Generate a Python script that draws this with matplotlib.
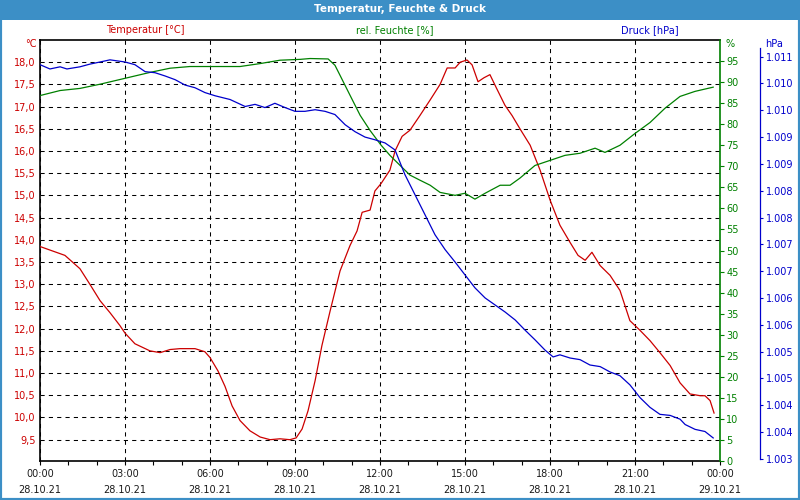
import matplotlib
matplotlib.use('Agg')
import matplotlib.pyplot as plt
from matplotlib.patches import Rectangle

plt.rcParams['font.family'] = ['DejaVu Sans']

# ---------------- data ----------------
temp_hours = [0.00, 0.88, 1.41, 1.76, 2.12, 2.47, 2.82, 3.00, 3.35, 3.88, 4.24, 4.59, 4.94,
              5.47, 5.82, 6.00, 6.28, 6.53, 6.78, 7.06, 7.41, 7.77, 8.12, 8.47, 8.82, 9.04,
              9.25, 9.46, 9.71, 9.95, 10.24, 10.59, 10.94, 11.19, 11.37, 11.65, 11.82, 12.04,
              12.35, 12.53, 12.78, 13.06, 13.41, 13.77, 14.12, 14.37, 14.65, 14.83, 15.07,
              15.25, 15.46, 15.67, 15.88, 16.10, 16.41, 16.66, 16.94, 17.30, 17.65, 18.00,
              18.35, 18.71, 18.99, 19.24, 19.48, 19.77, 20.12, 20.47, 20.82, 21.18, 21.53,
              21.88, 22.24, 22.59, 22.94, 23.30, 23.47, 23.65, 23.79]
temp_values = [13.85, 13.65, 13.35, 13.00, 12.63, 12.36, 12.07, 11.90, 11.66, 11.50, 11.46,
               11.53, 11.55, 11.55, 11.48, 11.35, 11.05, 10.70, 10.26, 9.93, 9.70, 9.56, 9.50,
               9.52, 9.50, 9.54, 9.74, 10.15, 10.83, 11.62, 12.40, 13.30, 13.87, 14.20, 14.62,
               14.67, 15.10, 15.27, 15.57, 16.00, 16.33, 16.47, 16.80, 17.15, 17.50, 17.87,
               17.87, 18.00, 18.05, 17.94, 17.56, 17.65, 17.72, 17.43, 17.03, 16.80, 16.50,
               16.13, 15.57, 14.90, 14.33, 13.94, 13.65, 13.54, 13.72, 13.42, 13.20, 12.86,
               12.18, 11.96, 11.73, 11.46, 11.17, 10.78, 10.53, 10.49, 10.49, 10.38, 10.10]

hum_hours = [0.00, 0.71, 1.41, 2.12, 3.00, 3.88, 4.59, 5.29, 7.06, 7.77, 8.47, 9.18, 9.53,
             10.17, 10.41, 10.59, 10.94, 11.30, 11.65, 12.04, 12.35, 12.71, 13.06, 13.41,
             13.77, 14.12, 14.65, 15.00, 15.35, 15.71, 16.24, 16.59, 16.94, 17.47, 18.00,
             18.53, 19.06, 19.59, 19.94, 20.47, 21.00, 21.53, 22.06, 22.59, 23.12, 23.76]
hum_values = [86.8, 88.0, 88.5, 89.5, 90.9, 92.3, 93.3, 93.7, 93.7, 94.4, 95.2, 95.4, 95.6,
              95.5, 94.0, 91.6, 86.9, 82.1, 78.5, 75.0, 72.6, 70.2, 67.9, 66.7, 65.5, 63.8,
              63.1, 63.6, 62.2, 63.6, 65.5, 65.5, 67.2, 70.2, 71.4, 72.6, 73.1, 74.3, 73.3,
              75.0, 77.8, 80.4, 83.8, 86.6, 87.8, 88.8]

pres_hours = [0.00, 0.35, 0.71, 0.95, 1.41, 1.76, 2.12, 2.47, 3.00, 3.35, 3.71, 4.06, 4.41,
              4.77, 5.12, 5.47, 5.82, 6.18, 6.71, 7.24, 7.59, 7.94, 8.29, 8.65, 9.00, 9.35,
              9.71, 10.06, 10.41, 10.77, 11.12, 11.47, 11.82, 12.18, 12.53, 12.88, 13.24,
              13.59, 13.94, 14.30, 14.65, 15.00, 15.35, 15.71, 16.06, 16.41, 16.77, 17.12,
              17.47, 17.82, 18.11, 18.35, 18.71, 19.06, 19.41, 19.77, 20.12, 20.47, 20.82,
              21.18, 21.53, 21.88, 22.24, 22.59, 22.77, 23.12, 23.47, 23.76]
pres_values = [1010.35, 1010.27, 1010.31, 1010.27, 1010.31, 1010.36, 1010.40, 1010.44,
               1010.40, 1010.35, 1010.22, 1010.20, 1010.14, 1010.07, 1009.97, 1009.92,
               1009.83, 1009.77, 1009.70, 1009.57, 1009.61, 1009.55, 1009.63, 1009.55,
               1009.48, 1009.48, 1009.51, 1009.48, 1009.42, 1009.23, 1009.10, 1009.00,
               1008.95, 1008.89, 1008.76, 1008.30, 1007.92, 1007.55, 1007.18, 1006.90,
               1006.67, 1006.43, 1006.19, 1006.00, 1005.87, 1005.74, 1005.59, 1005.40,
               1005.22, 1005.03, 1004.90, 1004.94, 1004.88, 1004.85, 1004.75, 1004.72,
               1004.62, 1004.55, 1004.38, 1004.14, 1003.96, 1003.83, 1003.81, 1003.74,
               1003.64, 1003.55, 1003.51, 1003.39]

temp_ticks = [9.5, 10.0, 10.5, 11.0, 11.5, 12.0, 12.5, 13.0, 13.5, 14.0, 14.5, 15.0, 15.5,
              16.0, 16.5, 17.0, 17.5, 18.0]
temp_ticklabels = ["9,5", "10,0", "10,5", "11,0", "11,5", "12,0", "12,5", "13,0", "13,5",
                   "14,0", "14,5", "15,0", "15,5", "16,0", "16,5", "17,0", "17,5", "18,0"]
hum_ticks = [0, 5, 10, 15, 20, 25, 30, 35, 40, 45, 50, 55, 60, 65, 70, 75, 80, 85, 90, 95]
pres_ticks = [1003.0, 1003.5, 1004.0, 1004.5, 1005.0, 1005.5, 1006.0, 1006.5, 1007.0,
              1007.5, 1008.0, 1008.5, 1009.0, 1009.5, 1010.0, 1010.5]
pres_ticklabels = ["1.003", "1.004", "1.004", "1.005", "1.005", "1.006", "1.006", "1.007",
                   "1.007", "1.008", "1.008", "1.009", "1.009", "1.010", "1.010", "1.011"]
x_major = [0, 3, 6, 9, 12, 15, 18, 21, 24]
x_times = ["00:00", "03:00", "06:00", "09:00", "12:00", "15:00", "18:00", "21:00", "00:00"]
x_dates = ["28.10.21"] * 8 + ["29.10.21"]

title = "Temperatur, Feuchte & Druck"
series_names = ["Temperatur [°C]", "rel. Feuchte [%]", "Druck [hPa]"]

# ---------------- style ----------------
RED = '#cc0000'
GREEN = '#008000'
BLUE = '#0000cc'
BAR = '#3c8fc6'
FS = 7

W, H = 800, 500
fig = plt.figure(figsize=(8, 5), dpi=100)
fig.patch.set_facecolor('white')


def fx(px):
    return px / W


def fy(py):
    return 1 - py / H


# title bar and border
fig.add_artist(Rectangle((0, fy(20)), 1, 20 / H, transform=fig.transFigure,
                         facecolor=BAR, edgecolor='none', zorder=0))
fig.add_artist(Rectangle((0, 0), 1, 1, transform=fig.transFigure, fill=False,
                         edgecolor=BAR, lw=3, zorder=10))
fig.text(0.5, fy(9.5), title, color='white', fontsize=7.5, fontweight='bold',
         ha='center', va='center')

ax = fig.add_axes([fx(40), fy(461), fx(720) - fx(40), fy(40) - fy(461)])
ax2 = ax.twinx()
ax3 = ax.twinx()

# temperature axis
ax.plot(temp_hours, temp_values, color=RED, lw=0.9, zorder=3)
ax.set_xlim(0, 24)
ax.set_ylim(9.02, 18.5)
ax.set_yticks(temp_ticks)
ax.set_yticklabels(temp_ticklabels)
ax.tick_params(axis='y', length=0, pad=3, labelsize=FS, labelcolor=RED)
ax.set_xticks(x_major)
ax.set_xticklabels([t + "\n" + d for t, d in zip(x_times, x_dates)], linespacing=1.75)
ax.set_xticks(range(0, 25), minor=True)
ax.tick_params(axis='x', which='both', direction='out', length=3, width=0.8,
               labelsize=FS, labelcolor='#1a1a1a', pad=2.5)
ax.grid(True, which='major', color='black', linestyle=(0, (4, 4)), lw=0.75)
for s in ['top', 'left', 'bottom']:
    ax.spines[s].set_color('black')
    ax.spines[s].set_linewidth(1.2)
ax.spines['right'].set_visible(False)

# humidity axis
ax2.plot(hum_hours, hum_values, color=GREEN, lw=0.9, zorder=3)
ax2.set_ylim(0, 100)
ax2.set_yticks(hum_ticks)
ax2.set_yticklabels([str(v) for v in hum_ticks])
ax2.tick_params(axis='y', direction='out', length=3, width=0.8, color=GREEN,
                labelcolor=GREEN, labelsize=FS, pad=1.5)
for s in ['top', 'left', 'bottom']:
    ax2.spines[s].set_visible(False)
ax2.spines['right'].set_color(GREEN)
ax2.spines['right'].set_linewidth(1.2)

# pressure axis (40 px to the right of the plot = 28.8 pt)
ax3.plot(pres_hours, pres_values, color=BLUE, lw=0.9, zorder=3)
ax3.set_ylim(1002.96, 1010.81)
ax3.set_yticks(pres_ticks)
ax3.set_yticklabels(pres_ticklabels)
ax3.spines['right'].set_position(('outward', 28.8))
ax3.spines['right'].set_bounds(1003.0, 1010.66)
ax3.spines['right'].set_color(BLUE)
ax3.spines['right'].set_linewidth(0.9)
for s in ['top', 'left', 'bottom']:
    ax3.spines[s].set_visible(False)
ax3.tick_params(axis='y', direction='out', length=2.5, width=0.8, color=BLUE,
                labelcolor=BLUE, labelsize=FS, pad=1.5)

# series header labels and units
fig.text(fx(145), fy(30), series_names[0], color=RED, fontsize=FS, ha='center', va='center')
fig.text(fx(395), fy(30), series_names[1], color=GREEN, fontsize=FS, ha='center', va='center')
fig.text(fx(650), fy(30), series_names[2], color=BLUE, fontsize=FS, ha='center', va='center')
fig.text(fx(37), fy(44), "°C", color=RED, fontsize=FS, ha='right', va='center')
fig.text(fx(725), fy(44), "%", color=GREEN, fontsize=FS, ha='left', va='center')
fig.text(fx(765), fy(44), "hPa", color=BLUE, fontsize=FS, ha='left', va='center')

fig.savefig('out.png', dpi=100)
